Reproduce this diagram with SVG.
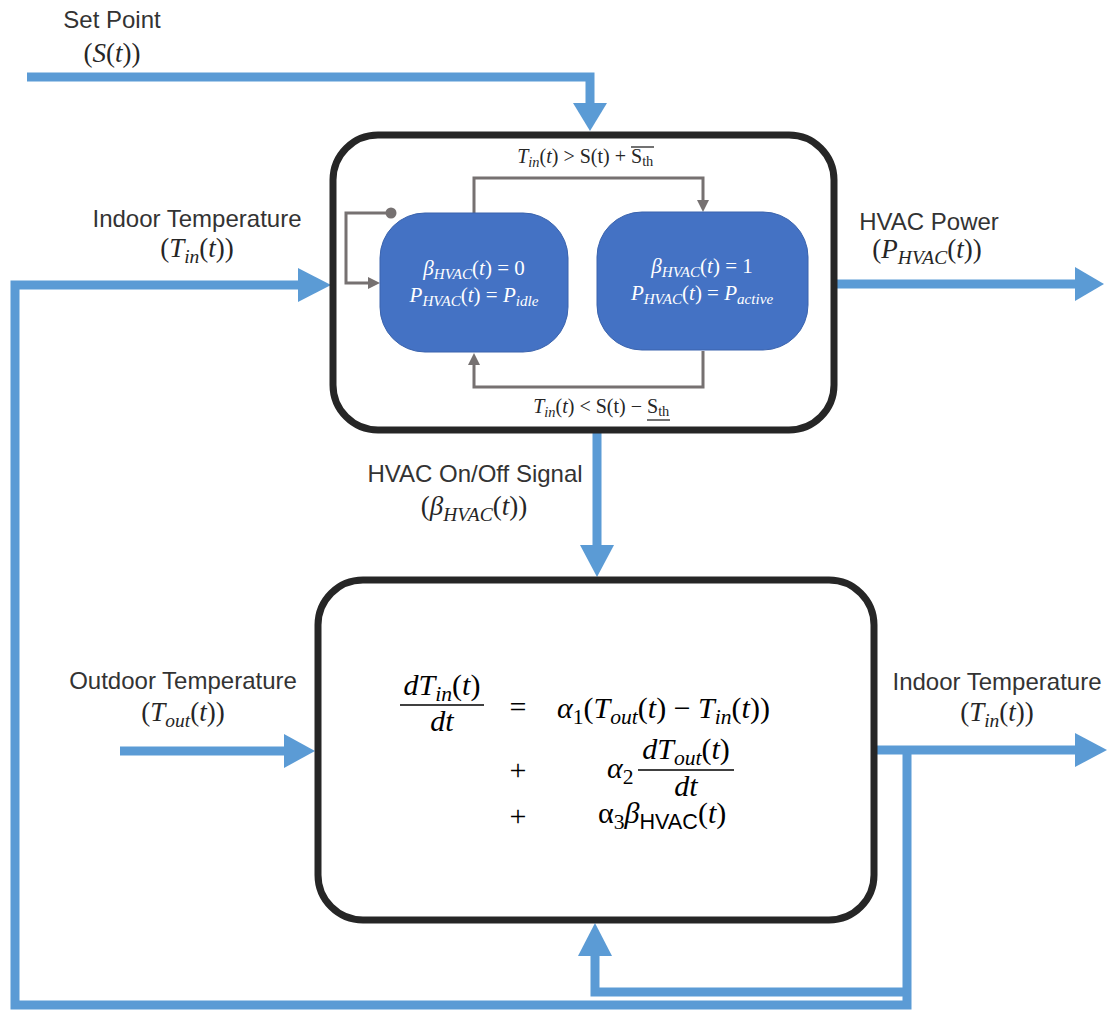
<svg xmlns="http://www.w3.org/2000/svg" width="1112" height="1015" viewBox="0 0 1112 1015">
<style>
.lbl{font-family:"Liberation Sans",Arial,sans-serif;font-size:24px;fill:#333333}
.m{font-family:"Liberation Serif","Times New Roman",serif;font-style:italic;fill:#262626}
.up{font-style:normal}
.sub{font-size:0.72em}
.w{fill:#ffffff}
.blue{fill:none;stroke:#5B9BD5;stroke-width:9}
.head{fill:#5B9BD5}
.gray{fill:none;stroke:#767171;stroke-width:3}
.ghead{fill:#767171}
.frame{fill:#ffffff;stroke:#262626;stroke-width:7}
.state{fill:#4472C4;stroke:#3A63AD;stroke-width:1}
.eq{font-family:"Liberation Serif","Times New Roman",serif;font-style:italic;font-size:30px;fill:#000}
.deco{stroke:#262626;stroke-width:1.3}
</style>
<rect width="1112" height="1015" fill="#ffffff"/>

<g id="connectors">
  <polyline class="blue" points="27,77 590,77 590,104"/>
  <polygon class="head" points="573,103 607,103 590,131"/>
  <polyline class="blue" points="907,750 907,1005 15,1005 15,285 300,285"/>
  <polygon class="head" points="298,268 298,302 331,285"/>
  <polyline class="blue" points="907,992 595,992 595,955"/>
  <polygon class="head" points="578,956 612,956 595,923"/>
  <line class="blue" x1="837" y1="284" x2="1078" y2="284"/>
  <polygon class="head" points="1075,267 1075,301 1104,284"/>
  <line class="blue" x1="597" y1="431" x2="597" y2="548"/>
  <polygon class="head" points="580,545 614,545 597,577"/>
  <line class="blue" x1="120" y1="751" x2="286" y2="751"/>
  <polygon class="head" points="284,734 284,768 315,751"/>
  <line class="blue" x1="874" y1="750" x2="1078" y2="750"/>
  <polygon class="head" points="1075,733 1075,767 1107,750"/>
</g>

<g id="controller">
  <rect class="frame" x="333" y="135" width="501" height="295" rx="45" ry="45"/>
</g>

<g id="state-connectors">
  <polyline class="gray" points="474,213 474,178 703,178 703,201"/>
  <polygon class="ghead" points="697,200 709,200 703,212"/>
  <polyline class="gray" points="703,351 703,387 474,387 474,364"/>
  <polygon class="ghead" points="468,365 480,365 474,353"/>
  <polyline class="gray" points="391,213 346,213 346,283 369,283"/>
  <polygon class="ghead" points="368,277 368,289 380,283"/>
  <circle cx="391" cy="213" r="5.5" fill="#767171"/>
</g>

<g id="state-idle">
  <rect class="state" x="380" y="213" width="188" height="139" rx="45" ry="45"/>
  <text class="m w" x="474" y="275" text-anchor="middle" font-size="21">β<tspan class="sub" dy="4">HVAC</tspan><tspan class="up" dy="-4">(</tspan>t<tspan class="up">) = 0</tspan></text>
  <text class="m w" x="474" y="302" text-anchor="middle" font-size="21">P<tspan class="sub" dy="4">HVAC</tspan><tspan class="up" dy="-4">(</tspan>t<tspan class="up">) = </tspan>P<tspan class="sub" dy="4">idle</tspan></text>
</g>

<g id="state-active">
  <rect class="state" x="597" y="212" width="211" height="138" rx="45" ry="45"/>
  <text class="m w" x="702" y="273" text-anchor="middle" font-size="21">β<tspan class="sub" dy="4">HVAC</tspan><tspan class="up" dy="-4">(</tspan>t<tspan class="up">) = 1</tspan></text>
  <text class="m w" x="702" y="300" text-anchor="middle" font-size="21">P<tspan class="sub" dy="4">HVAC</tspan><tspan class="up" dy="-4">(</tspan>t<tspan class="up">) = </tspan>P<tspan class="sub" dy="4">active</tspan></text>
</g>

<g id="conditions">
  <text class="m" x="626" y="163" text-anchor="end" font-size="20">T<tspan class="sub" dy="4">in</tspan><tspan class="up" dy="-4">(</tspan>t<tspan class="up">) &gt; S(t) +</tspan></text>
  <text class="m up" x="631" y="163" font-size="20" style="font-style:normal">S<tspan class="sub" dy="3">th</tspan></text>
  <line class="deco" x1="631" y1="147" x2="654" y2="147"/>
  <text class="m" x="642" y="413" text-anchor="end" font-size="20">T<tspan class="sub" dy="4">in</tspan><tspan class="up" dy="-4">(</tspan>t<tspan class="up">) &lt; S(t) −</tspan></text>
  <text class="m up" x="647" y="413" font-size="20" style="font-style:normal">S<tspan class="sub" dy="3">th</tspan></text>
  <line class="deco" x1="647" y1="420" x2="670" y2="420"/>
</g>

<g id="building-model">
  <rect class="frame" x="318" y="580" width="556" height="340" rx="45" ry="45"/>
  <text class="eq" x="442" y="695" text-anchor="middle">dT<tspan class="sub" dy="6">in</tspan><tspan class="up" dy="-6">(</tspan>t<tspan class="up">)</tspan></text>
  <line x1="400" y1="705" x2="484" y2="705" stroke="#000" stroke-width="1.5"/>
  <text class="eq" x="442" y="731" text-anchor="middle">dt</text>
  <text class="eq" x="518" y="717" text-anchor="middle" style="font-style:normal">=</text>
  <text class="eq" x="557" y="718">α<tspan class="sub up" dy="6">1</tspan><tspan class="up" dy="-6">(</tspan>T<tspan class="sub" dy="6">out</tspan><tspan class="up" dy="-6">(</tspan>t<tspan class="up">) − </tspan>T<tspan class="sub" dy="6">in</tspan><tspan class="up" dy="-6">(</tspan>t<tspan class="up">))</tspan></text>

  <text class="eq" x="518" y="780" text-anchor="middle" style="font-style:normal">+</text>
  <text class="eq" x="607" y="778">α<tspan class="sub up" dy="6">2</tspan></text>
  <text class="eq" x="686" y="759" text-anchor="middle">dT<tspan class="sub" dy="6">out</tspan><tspan class="up" dy="-6">(</tspan>t<tspan class="up">)</tspan></text>
  <line x1="638" y1="770" x2="734" y2="770" stroke="#000" stroke-width="1.5"/>
  <text class="eq" x="686" y="796" text-anchor="middle">dt</text>

  <text class="eq" x="518" y="826" text-anchor="middle" style="font-style:normal">+</text>
  <text class="eq" x="598" y="823"><tspan class="up">α</tspan><tspan class="sub up" dy="6">3</tspan><tspan dy="-6">β</tspan><tspan class="sub up" dy="6" font-family="Liberation Sans, Arial, sans-serif">HVAC</tspan><tspan class="up" dy="-6">(</tspan>t<tspan class="up">)</tspan></text>
</g>

<g id="labels">
  <text class="lbl" x="112" y="28" text-anchor="middle">Set Point</text>
  <text class="m" x="112" y="62" text-anchor="middle" font-size="27"><tspan class="up">(</tspan>S<tspan class="up">(</tspan>t<tspan class="up">))</tspan></text>

  <text class="lbl" x="197" y="227" text-anchor="middle">Indoor Temperature</text>
  <text class="m" x="197" y="257" text-anchor="middle" font-size="27"><tspan class="up">(</tspan>T<tspan class="sub" dy="6">in</tspan><tspan class="up" dy="-6">(</tspan>t<tspan class="up">))</tspan></text>

  <text class="lbl" x="929" y="230" text-anchor="middle">HVAC Power</text>
  <text class="m" x="927" y="258" text-anchor="middle" font-size="27"><tspan class="up">(</tspan>P<tspan class="sub" dy="6">HVAC</tspan><tspan class="up" dy="-6">(</tspan>t<tspan class="up">))</tspan></text>

  <text class="lbl" x="475" y="482" text-anchor="middle">HVAC On/Off Signal</text>
  <text class="m" x="474" y="515" text-anchor="middle" font-size="27"><tspan class="up">(</tspan>β<tspan class="sub" dy="6">HVAC</tspan><tspan class="up" dy="-6">(</tspan>t<tspan class="up">))</tspan></text>

  <text class="lbl" x="183" y="689" text-anchor="middle">Outdoor Temperature</text>
  <text class="m" x="183" y="721" text-anchor="middle" font-size="27"><tspan class="up">(</tspan>T<tspan class="sub" dy="6">out</tspan><tspan class="up" dy="-6">(</tspan>t<tspan class="up">))</tspan></text>

  <text class="lbl" x="997" y="690" text-anchor="middle">Indoor Temperature</text>
  <text class="m" x="997" y="721" text-anchor="middle" font-size="27"><tspan class="up">(</tspan>T<tspan class="sub" dy="6">in</tspan><tspan class="up" dy="-6">(</tspan>t<tspan class="up">))</tspan></text>
</g>
</svg>
